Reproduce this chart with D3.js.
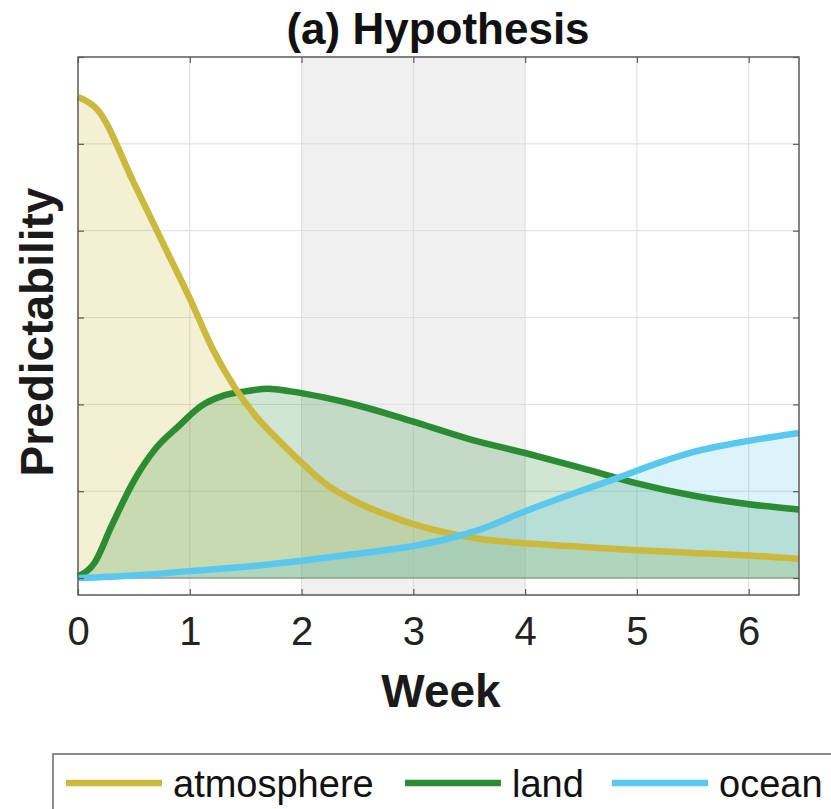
<!DOCTYPE html>
<html>
<head>
<meta charset="utf-8">
<script src="https://cdn.jsdelivr.net/npm/d3@7"></script>
<style>
  body { margin: 0; background: #fff; }
  svg { display: block; font-family: 'Liberation Sans', Arial, Helvetica, sans-serif; }
</style>
</head>
<body>
<div class="chart"></div>
<script>
const width = 831,
	height = 809

// weeks and predictability values
const atmosphereWeeks = [0, 0.17, 0.5, 0.8, 1.0, 1.2, 1.4, 1.6, 1.8, 2.0, 2.2, 2.5, 2.8, 3.0, 3.3, 3.6, 4.0, 4.5, 5.0, 5.5, 6.0, 6.45]
const atmosphereValues = [5.54, 5.4, 4.55, 3.75, 3.22, 2.65, 2.2, 1.85, 1.58, 1.33, 1.1, 0.87, 0.71, 0.62, 0.52, 0.45, 0.4, 0.36, 0.32, 0.29, 0.26, 0.22]

const landWeeks = [0, 0.15, 0.3, 0.5, 0.7, 0.9, 1.1, 1.3, 1.5, 1.7, 1.9, 2.2, 2.5, 2.8, 3.1, 3.5, 4.0, 4.5, 5.0, 5.5, 6.0, 6.45]
const landValues = [0.02, 0.18, 0.6, 1.12, 1.5, 1.75, 1.98, 2.1, 2.15, 2.18, 2.15, 2.08, 1.99, 1.88, 1.76, 1.6, 1.44, 1.27, 1.09, 0.95, 0.85, 0.79]

const oceanWeeks = [0, 0.5, 1.0, 1.5, 2.0, 2.5, 3.0, 3.3, 3.6, 4.0, 4.4, 4.8, 5.2, 5.5, 6.0, 6.45]
const oceanValues = [0, 0.03, 0.08, 0.13, 0.2, 0.28, 0.37, 0.45, 0.56, 0.77, 0.96, 1.14, 1.33, 1.45, 1.58, 1.67]

const xTicks = [0, 1, 2, 3, 4, 5, 6]
const yTicks = [0, 1, 2, 3, 4, 5, 6]
const shadedWeeks = [2, 4]

const seriesNames = ['atmosphere', 'land', 'ocean']
const seriesColors = ['#cbb93d', '#2b8c33', '#5ac8ee']

const series = [
	{ name: 'atmosphere', weeks: atmosphereWeeks, values: atmosphereValues, color: seriesColors[0] },
	{ name: 'land', weeks: landWeeks, values: landValues, color: seriesColors[1] },
	{ name: 'ocean', weeks: oceanWeeks, values: oceanValues, color: seriesColors[2] },
]
series.forEach(s => {
	s.points = s.weeks.map((w, i) => ({ week: w, value: s.values[i] }))
})

const plot = { left: 78, right: 799, top: 57, bottom: 595 }

const svg = d3
	.select('.chart')
	.append('svg')
	.attr('width', width)
	.attr('height', height)

const x = d3.scaleLinear().domain([0, 6.45]).range([plot.left, plot.right])
const y = d3.scaleLinear().domain([-0.195, 6]).range([plot.bottom, plot.top])

// shaded weeks 2-4
svg.append('rect')
	.attr('x', x(shadedWeeks[0]))
	.attr('y', plot.top)
	.attr('width', x(shadedWeeks[1]) - x(shadedWeeks[0]))
	.attr('height', plot.bottom - plot.top)
	.attr('fill', '#f0f0f0')

// grid
svg.append('g')
	.selectAll('line')
	.data(xTicks.filter(d => d > 0))
	.enter()
	.append('line')
	.attr('x1', d => x(d))
	.attr('x2', d => x(d))
	.attr('y1', plot.top)
	.attr('y2', plot.bottom)
	.attr('stroke', '#dcdcdc')
	.attr('stroke-width', 1)

svg.append('g')
	.selectAll('line')
	.data(yTicks.filter(d => d > 0 && d < 6))
	.enter()
	.append('line')
	.attr('x1', plot.left)
	.attr('x2', plot.right)
	.attr('y1', d => y(d))
	.attr('y2', d => y(d))
	.attr('stroke', '#dcdcdc')
	.attr('stroke-width', 1)

const area = d3
	.area()
	.curve(d3.curveMonotoneX)
	.x(d => x(d.week))
	.y0(y(0))
	.y1(d => y(d.value))

const line = d3
	.line()
	.curve(d3.curveMonotoneX)
	.x(d => x(d.week))
	.y(d => y(d.value))

// filled areas
svg.append('g')
	.selectAll('path')
	.data(series)
	.enter()
	.append('path')
	.attr('d', d => area(d.points))
	.attr('fill', d => d.color)
	.attr('fill-opacity', 0.22)

// baseline edge of the filled areas
svg.append('line')
	.attr('x1', plot.left)
	.attr('x2', plot.right)
	.attr('y1', y(0))
	.attr('y2', y(0))
	.attr('stroke', '#777')
	.attr('stroke-width', 1)

// lines: land under atmosphere, ocean on top
const lineOrder = [series[1], series[0], series[2]]
svg.append('g')
	.selectAll('path')
	.data(lineOrder)
	.enter()
	.append('path')
	.attr('d', d => line(d.points))
	.attr('fill', 'none')
	.attr('stroke', d => d.color)
	.attr('stroke-width', 6.5)
	.attr('stroke-linejoin', 'round')

// box
svg.append('rect')
	.attr('x', plot.left)
	.attr('y', plot.top)
	.attr('width', plot.right - plot.left)
	.attr('height', plot.bottom - plot.top)
	.attr('fill', 'none')
	.attr('stroke', '#5a5a5a')
	.attr('stroke-width', 1.5)

// inward ticks on all four sides
const tickLen = 6
const tickColor = '#5a5a5a'
const bottomAxis = svg.append('g')
	.attr('transform', `translate(0,${plot.bottom})`)
	.call(d3.axisBottom(x).tickValues(xTicks).tickSizeInner(-tickLen).tickSizeOuter(0).tickPadding(22).tickFormat(d3.format('d')))
bottomAxis.select('.domain').remove()
bottomAxis.selectAll('line').attr('stroke', tickColor).attr('stroke-width', 1.2)
bottomAxis.selectAll('text')
	.attr('font-size', 40)
	.attr('fill', '#222')
	.attr('font-family', "'Liberation Sans', Arial, sans-serif")

const topAxis = svg.append('g')
	.attr('transform', `translate(0,${plot.top})`)
	.call(d3.axisTop(x).tickValues(xTicks).tickSizeInner(-tickLen).tickSizeOuter(0).tickFormat(''))
topAxis.select('.domain').remove()
topAxis.selectAll('line').attr('stroke', tickColor).attr('stroke-width', 1.2)

const leftAxis = svg.append('g')
	.attr('transform', `translate(${plot.left},0)`)
	.call(d3.axisLeft(y).tickValues(yTicks).tickSizeInner(-tickLen).tickSizeOuter(0).tickFormat(''))
leftAxis.select('.domain').remove()
leftAxis.selectAll('line').attr('stroke', tickColor).attr('stroke-width', 1.2)

const rightAxis = svg.append('g')
	.attr('transform', `translate(${plot.right},0)`)
	.call(d3.axisRight(y).tickValues(yTicks).tickSizeInner(-tickLen).tickSizeOuter(0).tickFormat(''))
rightAxis.select('.domain').remove()
rightAxis.selectAll('line').attr('stroke', tickColor).attr('stroke-width', 1.2)

// title
svg.append('text')
	.attr('x', 438)
	.attr('y', 44)
	.attr('text-anchor', 'middle')
	.attr('font-size', 44)
	.attr('font-weight', 'bold')
	.attr('fill', '#111')
	.text('(a) Hypothesis')

// axis labels
svg.append('text')
	.attr('x', 441)
	.attr('y', 707)
	.attr('text-anchor', 'middle')
	.attr('font-size', 46)
	.attr('font-weight', 'bold')
	.attr('fill', '#1a1a1a')
	.text('Week')

svg.append('text')
	.attr('transform', 'translate(53,332) rotate(-90)')
	.attr('text-anchor', 'middle')
	.attr('font-size', 46)
	.attr('font-weight', 'bold')
	.attr('fill', '#1a1a1a')
	.text('Predictability')

// legend
const legend = svg.append('g')
legend.append('rect')
	.attr('x', 53)
	.attr('y', 754)
	.attr('width', 820)
	.attr('height', 100)
	.attr('fill', '#fff')
	.attr('stroke', '#666')
	.attr('stroke-width', 1.5)

const legendX = [66, 405, 612]
const legendItems = legend.selectAll('g.item')
	.data(seriesNames)
	.enter()
	.append('g')
	.attr('class', 'item')
	.attr('transform', (d, i) => `translate(${legendX[i]},783)`)

legendItems.append('line')
	.attr('x1', 0)
	.attr('x2', 96)
	.attr('stroke', (d, i) => seriesColors[i])
	.attr('stroke-width', 6.5)

legendItems.append('text')
	.attr('x', 107)
	.attr('y', 14)
	.attr('font-size', 38)
	.attr('fill', '#111')
	.text(d => d)
</script>
</body>
</html>
